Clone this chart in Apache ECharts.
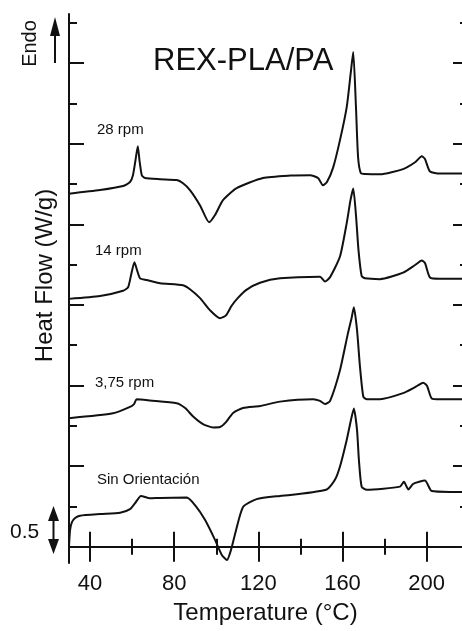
<!DOCTYPE html>
<html>
<head>
<meta charset="utf-8">
<script src="https://cdn.jsdelivr.net/npm/echarts@6/dist/echarts.min.js"></script>
<style>
  html, body { margin: 0; padding: 0; background: #fff; }
  #chart { width: 462px; height: 631px; }
</style>
</head>
<body>
<div id="chart"></div>
<script>
// heat flow values are in tick units (one y tick = 1), curves are offset vertically
const temp28 = [30.0, 44.75, 55.7, 59.0, 60.4, 61.6, 62.7, 63.5, 64.6, 66.1, 73.3, 81.2, 84.2, 87.5, 92.3, 96.6, 99.4, 103.2, 109.7, 122.2, 135.1, 144.6, 148.4, 150.7, 152.6, 155.5, 158.8, 162.0, 163.9, 165.1, 166.4, 167.4, 168.7, 170.7, 177.8, 188.8, 194.5, 197.7, 199.2, 201.6, 206.3, 216.8];
const flow28 = [8.76, 8.85, 8.95, 9.05, 9.22, 9.59, 9.94, 9.59, 9.22, 9.15, 9.12, 9.10, 9.02, 8.85, 8.47, 8.05, 8.23, 8.60, 8.90, 9.15, 9.21, 9.22, 9.15, 8.97, 9.05, 9.40, 10.09, 10.91, 11.75, 12.28, 10.91, 9.67, 9.27, 9.25, 9.24, 9.37, 9.54, 9.69, 9.62, 9.31, 9.26, 9.26];

const temp14 = [30.0, 44.75, 55.7, 58.1, 59.5, 61.1, 62.3, 63.8, 66.9, 73.3, 84.2, 87.5, 92.3, 97.0, 101.8, 104.6, 107.3, 110.2, 114.5, 120.8, 130.3, 149.3, 151.7, 154.1, 158.8, 162.0, 163.8, 165.1, 166.4, 167.6, 169.1, 170.7, 177.8, 188.8, 194.5, 197.7, 199.2, 201.6, 206.3, 216.8];
const flow14 = [6.15, 6.22, 6.35, 6.44, 6.74, 7.06, 6.87, 6.66, 6.62, 6.54, 6.49, 6.39, 6.17, 5.87, 5.67, 5.74, 5.98, 6.17, 6.38, 6.55, 6.66, 6.70, 6.58, 6.69, 7.20, 8.03, 8.60, 8.89, 8.23, 7.36, 6.72, 6.66, 6.64, 6.80, 6.99, 7.10, 7.04, 6.68, 6.65, 6.65];

const temp375 = [30.0, 50.9, 59.0, 60.9, 62.2, 68.5, 81.2, 85.2, 89.0, 93.7, 98.5, 101.8, 104.6, 108.0, 112.7, 120.8, 130.3, 146.0, 149.3, 151.7, 154.1, 158.8, 162.6, 164.3, 165.4, 166.9, 168.3, 169.9, 171.6, 177.8, 188.8, 194.5, 198.4, 200.2, 202.4, 206.3, 216.8];
const flow375 = [3.19, 3.31, 3.47, 3.54, 3.66, 3.63, 3.56, 3.44, 3.23, 3.04, 2.96, 2.97, 3.09, 3.32, 3.44, 3.49, 3.60, 3.66, 3.62, 3.54, 3.62, 4.38, 5.30, 5.67, 5.94, 5.38, 4.47, 3.72, 3.66, 3.66, 3.81, 3.96, 4.07, 3.99, 3.68, 3.66, 3.66];

const tempSin = [30.0, 30.5, 31.4, 32.9, 35.2, 44.75, 54.3, 59.0, 61.4, 64.2, 68.5, 73.3, 86.0, 89.9, 94.7, 99.4, 102.7, 105.1, 107.0, 109.4, 112.8, 119.2, 130.3, 135.1, 152.5, 156.4, 158.8, 162.0, 164.0, 165.4, 166.9, 167.8, 169.1, 171.5, 187.3, 189.2, 191.3, 193.6, 199.2, 202.4, 211.1, 216.8];
const flowSin = [0.0, 0.41, 0.61, 0.71, 0.77, 0.81, 0.84, 0.93, 1.08, 1.26, 1.20, 1.21, 1.22, 1.03, 0.66, 0.17, -0.21, -0.33, -0.08, 0.41, 0.99, 1.18, 1.26, 1.28, 1.42, 1.66, 1.99, 2.65, 3.14, 3.43, 2.90, 2.15, 1.49, 1.41, 1.49, 1.61, 1.42, 1.56, 1.64, 1.38, 1.36, 1.36];

const xMajor = [40, 80, 120, 160, 200];
const xMinor = [60, 100, 140, 180];
const yMajor = [0, 2, 4, 6, 8, 10, 12];
const yMinor = [1, 3, 5, 7, 9, 11, 13];

const FONT = "Liberation Sans, Arial, sans-serif";
const INK = "#111";

function zip(xs, ys) {
  return xs.map((x, i) => [x, ys[i]]);
}

// the frame is cut by the right image edge, so the x range stops at 216.8
function xAxisDef(position, ticks, len, opts) {
  return Object.assign({
    type: "value",
    gridIndex: 0,
    position: position,
    min: 30,
    max: 216.8,
    splitLine: { show: false },
    axisLine: { show: false },
    axisTick: { show: true, inside: true, length: len, customValues: ticks, lineStyle: { color: INK, width: 2 } },
    axisLabel: { show: false },
  }, opts || {});
}

function yAxisDef(position, ticks, len, opts) {
  return Object.assign({
    type: "value",
    gridIndex: 0,
    position: position,
    min: -0.405,
    max: 13.22,
    splitLine: { show: false },
    axisLine: { show: false },
    axisTick: { show: true, inside: true, length: len, customValues: ticks, lineStyle: { color: INK, width: 2 } },
    axisLabel: { show: false },
  }, opts || {});
}

const chart = echarts.init(document.getElementById("chart"));

const series = [
  zip(temp28, flow28),
  zip(temp14, flow14),
  zip(temp375, flow375),
  zip(tempSin, flowSin),
].map((d) => ({
  type: "line",
  data: d,
  xAxisIndex: 0,
  yAxisIndex: 0,
  showSymbol: false,
  smooth: 0.2,
  lineStyle: { color: INK, width: 2 },
  silent: true,
}));

function label(text, x, y, size) {
  return {
    type: "text",
    x: x,
    y: y,
    style: { text: text, fontSize: size, fontFamily: FONT, fill: INK, textVerticalAlign: "middle" },
  };
}

chart.setOption({
  animation: false,
  backgroundColor: "#fff",
  grid: { left: 69, right: 0, top: 14, bottom: 68 },
  xAxis: [
    xAxisDef("bottom", xMajor, 15, {
      axisLine: { show: true, lineStyle: { color: INK, width: 2 } },
      axisLabel: { show: true, customValues: xMajor, fontSize: 22, fontFamily: FONT, color: INK, margin: 10 },
      name: "Temperature (°C)",
      nameLocation: "middle",
      nameGap: 38,
      nameTextStyle: { fontSize: 24, fontFamily: FONT, color: INK },
    }),
    xAxisDef("bottom", xMinor, 8),
    xAxisDef("top", xMajor, 15, { axisLine: { show: true, lineStyle: { color: INK, width: 1.5 } } }),
    xAxisDef("top", xMinor, 8),
  ],
  yAxis: [
    yAxisDef("left", yMajor, 15, {
      axisLine: { show: true, lineStyle: { color: INK, width: 2 } },
      name: "Heat Flow (W/g)",
      nameLocation: "middle",
      nameGap: 12,
      nameTextStyle: { fontSize: 24, fontFamily: FONT, color: INK, padding: [0, 0, 0, 26] },
    }),
    yAxisDef("left", yMinor, 8),
    yAxisDef("right", yMajor, 9),
    yAxisDef("right", yMinor, 2),
  ],
  series: series,
  graphic: [
    {
      type: "text",
      x: 30.5,
      y: 43.5,
      rotation: Math.PI / 2,
      style: { text: "Endo", fontSize: 20, fontFamily: FONT, fill: INK, textAlign: "center", textVerticalAlign: "middle" },
    },
    { type: "line", shape: { x1: 55, y1: 63, x2: 55, y2: 32 }, style: { stroke: INK, lineWidth: 2 } },
    { type: "polygon", shape: { points: [[55, 17], [50, 36], [60, 36]] }, style: { fill: INK } },
    label("REX-PLA/PA", 153, 61, 31),
    label("28 rpm", 97, 130, 15),
    label("14 rpm", 95, 251, 15),
    label("3,75 rpm", 95, 383, 15),
    label("Sin Orientación", 97, 480, 15),
    label("0.5", 10, 532, 21),
    { type: "line", shape: { x1: 53.5, y1: 518, x2: 53.5, y2: 542 }, style: { stroke: INK, lineWidth: 2 } },
    { type: "polygon", shape: { points: [[53.5, 506], [48, 521], [59, 521]] }, style: { fill: INK } },
    { type: "polygon", shape: { points: [[53.5, 554], [48, 539], [59, 539]] }, style: { fill: INK } },
  ],
});
</script>
</body>
</html>
